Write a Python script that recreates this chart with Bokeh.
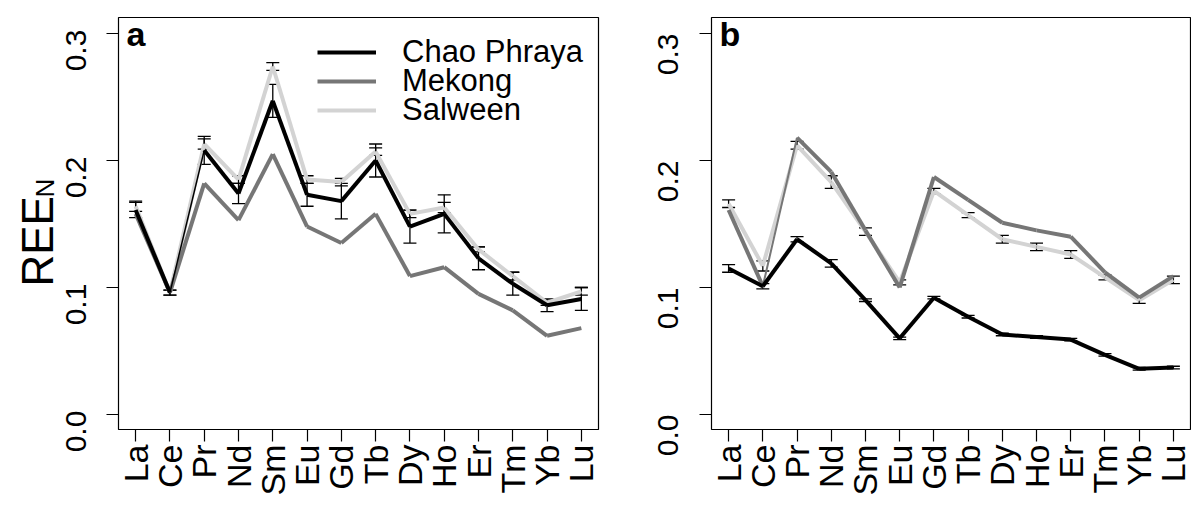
import math

from bokeh.core.properties import value
from bokeh.embed import file_html
from bokeh.layouts import row
from bokeh.models import (ColumnDataSource, FactorRange, FixedTicker, Label, Legend,
                          LegendItem, PrintfTickFormatter, Range1d, TeeHead, Whisker)
from bokeh.plotting import figure
from bokeh.resources import INLINE

# Rare earth elements, chondrite-normalised (REE_N)
elements = ["La", "Ce", "Pr", "Nd", "Sm", "Eu", "Gd", "Tb", "Dy", "Ho", "Er", "Tm", "Yb", "Lu"]

# Panel a
a_chao = [0.161, 0.096, 0.208, 0.174, 0.247, 0.173, 0.168, 0.200, 0.148, 0.158, 0.123, 0.103, 0.086, 0.091]
a_chao_err = [0.006, 0.002, 0.011, 0.008, 0.013, 0.009, 0.014, 0.013, 0.013, 0.015, 0.009, 0.009, 0.005, 0.009]
a_mekong = [0.158, 0.096, 0.182, 0.153, 0.205, 0.148, 0.135, 0.158, 0.109, 0.116, 0.095, 0.082, 0.062, 0.068]
a_salween = [0.164, 0.096, 0.213, 0.185, 0.274, 0.185, 0.183, 0.207, 0.158, 0.163, 0.130, 0.109, 0.088, 0.097]
a_salween_err = [0.004, 0.002, 0.004, 0.003, 0.003, 0.003, 0.003, 0.003, 0.003, 0.004, 0.002, 0.003, 0.002, 0.003]

# Panel b
b_chao = [0.115, 0.101, 0.138, 0.119, 0.090, 0.060, 0.092, 0.077, 0.063, 0.061, 0.059, 0.047, 0.036, 0.037]
b_chao_err = [0.003, 0.002, 0.002, 0.003, 0.001, 0.001, 0.001, 0.001, 0.001, 0.001, 0.001, 0.001, 0.001, 0.001]
b_mekong = [0.161, 0.101, 0.218, 0.191, 0.145, 0.100, 0.187, 0.169, 0.151, 0.145, 0.140, 0.112, 0.092, 0.109]
b_salween = [0.166, 0.117, 0.212, 0.183, 0.144, 0.104, 0.176, 0.157, 0.138, 0.132, 0.126, 0.108, 0.090, 0.106]
b_salween_err = [0.003, 0.004, 0.003, 0.005, 0.003, 0.002, 0.002, 0.002, 0.003, 0.003, 0.003, 0.002, 0.0025, 0.003]

y_ticks = [0.0, 0.1, 0.2, 0.3]
series_names = ["Chao Phraya", "Mekong", "Salween"]

FONT = "Liberation Sans"
C_CHAO = "#000000"
C_MEKONG = "#767676"
C_SALWEEN = "#d3d3d3"
LW = 4.0
TICK_FONT = "30px"
XTICK_FONT = "34px"

# value axis 0.0-0.3 with R-style 4 % padding
Y0, Y1 = -0.0118, 0.3126
FRAME_H = 412
TOP, BOTTOM = 17, 78
HEIGHT = TOP + FRAME_H + BOTTOM
y_range = Range1d(Y0, Y1)


def segments(values, thin_segment=None, thin_width=1.5):
    widths = [LW] * (len(values) - 1)
    if thin_segment is not None:
        widths[thin_segment] = thin_width
    return ColumnDataSource(dict(x0=elements[:-1], y0=values[:-1],
                                 x1=elements[1:], y1=values[1:], w=widths))


def error_bars(p, values, errs):
    src = ColumnDataSource(dict(x=elements,
                                lower=[v - e for v, e in zip(values, errs)],
                                upper=[v + e for v, e in zip(values, errs)]))
    w = Whisker(source=src, base="x", lower="lower", upper="upper",
                line_color="black", line_width=1.3,
                upper_head=TeeHead(size=13, line_color="black", line_width=1.3),
                lower_head=TeeHead(size=13, line_color="black", line_width=1.3))
    p.add_layout(w)


def panel(tag, chao, chao_err, mekong, salween, salween_err, left, fw, right,
          y_labels=True, thin_chao=None, thin_mekong=None):
    p = figure(x_range=FactorRange(*elements), y_range=y_range,
               frame_width=fw, frame_height=FRAME_H,
               min_border_left=left, min_border_right=right,
               min_border_top=TOP, min_border_bottom=BOTTOM,
               output_backend="svg", toolbar_location=None)
    p.xgrid.visible = False
    p.ygrid.visible = False
    p.outline_line_color = "black"
    p.outline_line_width = 1.2
    p.background_fill_color = "white"
    p.border_fill_color = "white"

    r_sal = p.segment("x0", "y0", "x1", "y1", source=segments(salween),
                      line_color=C_SALWEEN, line_width="w")
    r_mek = p.segment("x0", "y0", "x1", "y1",
                      source=segments(mekong, thin_mekong, 2.0),
                      line_color=C_MEKONG, line_width="w")
    r_cha = p.segment("x0", "y0", "x1", "y1",
                      source=segments(chao, thin_chao, 1.5),
                      line_color=C_CHAO, line_width="w")
    error_bars(p, salween, salween_err)
    error_bars(p, chao, chao_err)

    for ax in (p.xaxis[0], p.yaxis[0]):
        ax.axis_line_color = None
        ax.major_tick_line_color = "black"
        ax.major_tick_line_width = 1.2
        ax.major_tick_out = 12
        ax.major_tick_in = 0
        ax.minor_tick_line_color = None
        ax.major_label_text_font = FONT
        ax.major_label_text_color = "black"
        ax.major_label_orientation = math.pi / 2
    p.xaxis.major_label_text_font_size = XTICK_FONT
    p.xaxis.major_label_standoff = 3
    p.yaxis.ticker = FixedTicker(ticks=y_ticks)
    p.yaxis.formatter = PrintfTickFormatter(format="%.1f")
    p.yaxis.major_label_text_font_size = TICK_FONT
    if y_labels:
        p.yaxis.major_label_standoff = 31
    else:
        p.yaxis.major_label_standoff = 0
        p.yaxis.major_label_text_color = None

    p.add_layout(Label(x=8, y=396, x_units="screen", y_units="screen", text=tag,
                       text_font=FONT, text_font_style="bold", text_font_size="34px",
                       text_color="black", text_baseline="alphabetic"))
    return p, (r_cha, r_mek, r_sal)


# strip left of panel a: value labels and the REE_N title.
# Its frame spans the full height, with the same value scale as panel a.
LAB_W = 98
k = (Y1 - Y0) / FRAME_H
lab = figure(x_range=Range1d(0, LAB_W), y_range=Range1d(Y0 - BOTTOM * k, Y1 + TOP * k),
             frame_width=LAB_W, frame_height=HEIGHT,
             min_border_left=0, min_border_right=0, min_border_top=0, min_border_bottom=0,
             x_axis_location=None, y_axis_location=None,
             output_backend="svg", toolbar_location=None)
lab.extra_y_ranges = {"px": Range1d(0, HEIGHT)}
lab.grid.visible = False
lab.outline_line_color = None
lab.text(x=[75] * len(y_ticks), y=y_ticks, text=[f"{t:.1f}" for t in y_ticks],
         angle=math.pi / 2, text_align="center", text_baseline="alphabetic",
         text_font=value(FONT), text_font_size=TICK_FONT, text_color="black")
lab.text(x=[37], y=[238], text=["REE"], y_range_name="px",
         angle=math.pi / 2, text_align="left", text_baseline="alphabetic",
         text_font=value(FONT), text_font_size="44px", text_color="black")
lab.text(x=[44], y=[327], text=["N"], y_range_name="px",
         angle=math.pi / 2, text_align="left", text_baseline="alphabetic",
         text_font=value(FONT), text_font_size="26px", text_color="black")

pa, rends = panel("a", a_chao, a_chao_err, a_mekong, a_salween, a_salween_err,
                  left=118 - LAB_W, fw=480, right=2, y_labels=False, thin_chao=1)
pb, _ = panel("b", b_chao, b_chao_err, b_mekong, b_salween, b_salween_err,
              left=111, fw=479, right=1, thin_mekong=1)

# one legend per entry so the rows sit 29 px apart
for i, (name, r) in enumerate(zip(series_names, rends)):
    pa.add_layout(Legend(items=[LegendItem(label=name, renderers=[r])],
                         location=(199, 359 - 29 * i), border_line_color=None,
                         background_fill_alpha=0, padding=0, margin=0, spacing=0,
                         glyph_width=59, glyph_height=30, label_height=30,
                         label_standoff=26, label_text_font=FONT,
                         label_text_color="black", label_text_font_size="31px",
                         label_text_baseline="middle"))

layout = row(lab, pa, pb)
open("out.html", "w").write(file_html(layout, INLINE))
